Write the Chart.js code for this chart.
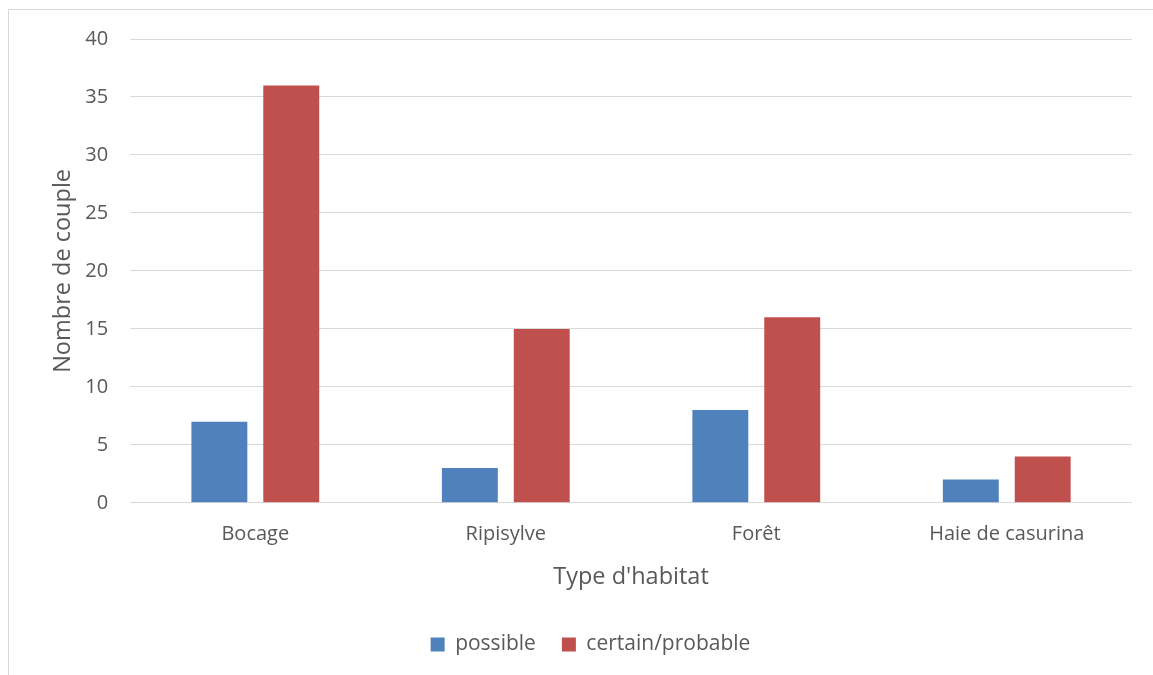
<!DOCTYPE html>
<html><head><meta charset="utf-8">
<script src="https://cdn.jsdelivr.net/npm/chart.js@4/dist/chart.umd.min.js"></script>
<style>
html,body{margin:0;padding:0;background:#fff;overflow:hidden}
#frame{position:absolute;left:8px;top:9px;width:1160px;height:700px;border:1px solid #d9d9d9;box-sizing:border-box}
#wrap{position:absolute;left:0;top:0;width:1153px;height:675px}
</style></head><body>
<div id="frame"></div>
<div id="wrap"><canvas id="c" width="1153" height="675"></canvas></div>
<script>
const categories = ["Bocage", "Ripisylve", "Forêt", "Haie de casurina"];
const possible = [7, 3, 8, 2];
const certainProbable = [36, 15, 16, 4];
const seriesNames = ["possible", "certain/probable"];
const yTicks = [0, 5, 10, 15, 20, 25, 30, 35, 40];

const FONT = "'Open Sans', 'Liberation Sans', sans-serif";
const TXT = '#595959';

new Chart(document.getElementById('c'), {
  type: 'bar',
  data: {
    labels: categories,
    datasets: [
      {label: seriesNames[0], data: possible, backgroundColor: '#4f81bd', barPercentage: 0.778, categoryPercentage: 0.574},
      {label: seriesNames[1], data: certainProbable, backgroundColor: '#c0504d', barPercentage: 0.778, categoryPercentage: 0.574}
    ]
  },
  options: {
    responsive: false,
    animation: false,
    layout: {padding: {left: 49, right: 21, top: 39, bottom: 10}},
    plugins: {
      legend: {
        position: 'bottom',
        labels: {font: {family: FONT, size: 21}, color: TXT, boxWidth: 14, boxHeight: 14, padding: 26}
      },
      tooltip: {enabled: false}
    },
    scales: {
      x: {
        grid: {display: false, drawTicks: false},
        border: {display: false},
        ticks: {font: {family: FONT, size: 20}, color: TXT, padding: 19},
        title: {display: true, text: "Type d'habitat", font: {family: FONT, size: 23.5}, color: TXT, padding: {top: -2, bottom: 17}}
      },
      y: {
        min: 0, max: 40,
        afterBuildTicks: (s) => { s.ticks = yTicks.map(v => ({value: v})); },
        grid: {color: '#d9d9d9', lineWidth: 1, drawTicks: false},
        border: {display: false},
        ticks: {font: {family: FONT, size: 20}, color: TXT, padding: 22},
        title: {display: true, text: "Nombre de couple", font: {family: FONT, size: 23.5}, color: TXT, padding: {top: 0, bottom: -14}}
      }
    }
  }
});
</script>
</body></html>
